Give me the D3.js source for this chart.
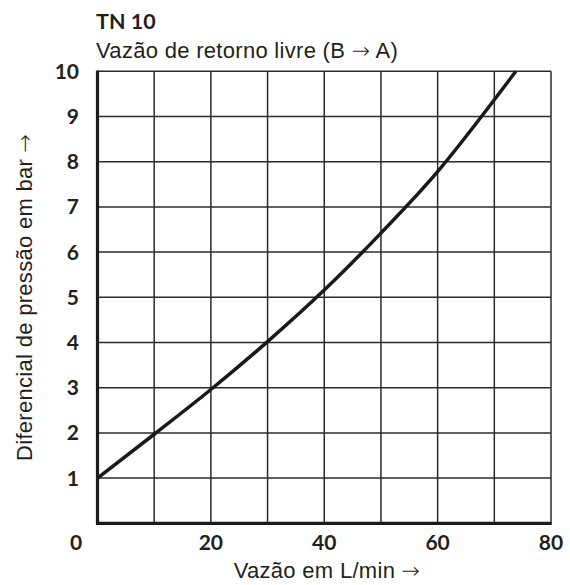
<!DOCTYPE html>
<html>
<head>
<meta charset="utf-8">
<script src="https://cdn.jsdelivr.net/npm/d3@7"></script>
<style>
  body { margin: 0; background: #fff; }
  svg text { fill: #231f20; }
  .tick-label { font-family: Lato, "Open Sans", sans-serif; font-weight: bold; font-size: 21px; }
  .title-txt { font-family: "Liberation Sans", Arial, sans-serif; font-size: 22px; letter-spacing: 0.3px; }
  .arrow { font-family: "DejaVu Sans", sans-serif; font-weight: 200; }
</style>
</head>
<body>
<svg></svg>
<script>
let width = 570;
let height = 585;
let marginLeft = 97.5, marginRight = 19, marginTop = 71.3, marginBottom = 61.7;

// curve
let flow = [0, 10, 20, 30, 40, 50, 60, 70, 73.8];
let pressure = [1, 1.97, 2.96, 4.02, 5.16, 6.42, 7.78, 9.37, 10];
let xTicks = [0, 20, 40, 60, 80];
let yTicks = [1, 2, 3, 4, 5, 6, 7, 8, 9, 10];
let xGrid = [10, 20, 30, 40, 50, 60, 70, 80];

let curveData = flow.map((d, i) => ({x: d, y: pressure[i]}));

let svg = d3.select("svg")
    .attr("width", width)
    .attr("height", height);

let scaleX = d3.scaleLinear().domain([0, 80]).range([marginLeft, width - marginRight]);
let scaleY = d3.scaleLinear().domain([0, 10]).range([height - marginBottom, marginTop]);

// grid
svg.append("g")
    .selectAll("line")
    .data(xGrid)
    .enter()
    .append("line")
    .attr("x1", d => scaleX(d)).attr("x2", d => scaleX(d))
    .attr("y1", scaleY(0)).attr("y2", scaleY(10))
    .attr("stroke", "#2b2b2b").attr("stroke-width", 1.5);

svg.append("g")
    .selectAll("line")
    .data(yTicks)
    .enter()
    .append("line")
    .attr("x1", scaleX(0)).attr("x2", scaleX(80))
    .attr("y1", d => scaleY(d)).attr("y2", d => scaleY(d))
    .attr("stroke", "#2b2b2b").attr("stroke-width", 1.5);

// thick axes left and bottom
svg.append("line")
    .attr("x1", scaleX(0)).attr("x2", scaleX(0))
    .attr("y1", scaleY(10) - 0.7).attr("y2", scaleY(0) + 1.5)
    .attr("stroke", "#1a1a1a").attr("stroke-width", 3.2);
svg.append("line")
    .attr("x1", scaleX(0) - 1.5).attr("x2", scaleX(80) + 0.7)
    .attr("y1", scaleY(0)).attr("y2", scaleY(0))
    .attr("stroke", "#1a1a1a").attr("stroke-width", 3.2);

// curve
let line = d3.line()
    .x(d => scaleX(d.x))
    .y(d => scaleY(d.y))
    .curve(d3.curveMonotoneX);

svg.append("path")
    .datum(curveData)
    .attr("d", line)
    .attr("fill", "none")
    .attr("stroke", "#1a1a1a")
    .attr("stroke-width", 3.5);

// tick labels
svg.append("g")
    .selectAll("text")
    .data(yTicks)
    .enter()
    .append("text")
    .attr("class", "tick-label")
    .attr("x", 79)
    .attr("y", d => scaleY(d) + 7.5)
    .attr("text-anchor", "end")
    .text(d => d);

svg.append("g")
    .selectAll("text")
    .data(xTicks)
    .enter()
    .append("text")
    .attr("class", "tick-label")
    .attr("x", d => d === 0 ? 76 : scaleX(d))
    .attr("y", 549.5)
    .attr("text-anchor", "middle")
    .text(d => d);

// titles
svg.append("text")
    .attr("class", "tick-label")
    .attr("x", 96)
    .attr("y", 29.3)
    .style("font-size", "21.5px")
    .text("TN 10");

let sub = svg.append("text")
    .attr("class", "title-txt")
    .attr("x", 96)
    .attr("y", 58.3);
sub.append("tspan").text("Vazão de retorno livre (B ");
sub.append("tspan").attr("class", "arrow").text("→");
sub.append("tspan").text(" A)");

let xt = svg.append("text")
    .attr("class", "title-txt")
    .attr("x", 327)
    .attr("y", 578.3)
    .attr("text-anchor", "middle");
xt.append("tspan").text("Vazão em L/min ");
xt.append("tspan").attr("class", "arrow").text("→");

let yt = svg.append("text")
    .attr("class", "title-txt")
    .attr("transform", `translate(31.5, ${(scaleY(0) + scaleY(10)) / 2}) rotate(-90)`)
    .attr("text-anchor", "middle");
yt.append("tspan").text("Diferencial de pressão em bar ");
yt.append("tspan").attr("class", "arrow").text("→");
</script>
</body>
</html>
